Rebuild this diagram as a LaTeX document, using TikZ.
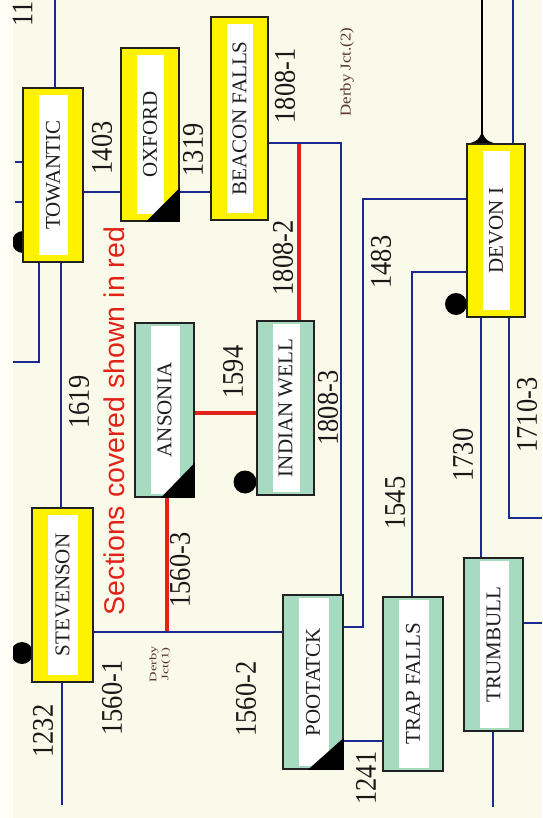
\documentclass[tikz,border=0pt]{standalone}
\usepackage{fontspec}
\setmainfont{Liberation Serif}
\newfontfamily\redsans{Liberation Sans}
\usepackage{graphicx}

\definecolor{bg}{HTML}{FAFAEA}
\definecolor{edgestrip}{HTML}{FFFFF8}
\definecolor{lineblue}{HTML}{1B2A92}
\definecolor{linered}{HTML}{E2231A}
\definecolor{boxyellow}{HTML}{FFF200}
\definecolor{boxgreen}{HTML}{A6DBC2}
\definecolor{boxedge}{HTML}{222222}
\definecolor{jctbrown}{HTML}{5A3328}

\newcommand\stretchx[2]{\scalebox{#1}[1]{#2}}
\newcommand\upright[1]{\rotatebox{90}{#1}}

\begin{document}
\begin{tikzpicture}[x=1pt,y=-1pt,
  ybox/.style={draw=boxedge, line width=1.6pt, fill=boxyellow, inner sep=0pt,
    font=\fontsize{21}{21}\selectfont, text=black!88,
    path picture={\fill[white] ([xshift=16pt,yshift=7pt]path picture bounding box.south west)
      rectangle ([xshift=-15pt,yshift=-7pt]path picture bounding box.north east);}},
  gbox/.style={draw=boxedge, line width=1.6pt, fill=boxgreen, inner sep=0pt,
    font=\fontsize{21}{21}\selectfont, text=black!88,
    path picture={\fill[white] ([xshift=16pt,yshift=3pt]path picture bounding box.south west)
      rectangle ([xshift=-14pt,yshift=-3pt]path picture bounding box.north east);}},
  bline/.style={draw=lineblue, line width=2.8pt},
  rline/.style={draw=linered, line width=3.8pt},
  dot/.style={circle, fill=black, inner sep=0pt, minimum size=22pt},
  num/.style={font=\fontsize{30}{30}\selectfont, inner sep=0pt, text=black!90},
  jct/.style={inner sep=0pt, text=jctbrown, align=center}
]
\useasboundingbox (0,0) rectangle (542,818);
\fill[bg] (0,0) rectangle (542,818);

% helper coordinates
\coordinate (Y143) at (0,143);
\coordinate (Y192) at (0,192);
\coordinate (Y199) at (0,199);
\coordinate (Y272) at (0,272);
\coordinate (Y413) at (0,413);
\coordinate (Y627) at (0,627);
\coordinate (Y632) at (0,632);
\coordinate (Y741) at (0,741);
\coordinate (X39) at (39,0);
\coordinate (X61) at (61,0);
\coordinate (X167) at (167,0);
\coordinate (X299) at (299,0);
\coordinate (X341) at (341,0);
\coordinate (X363) at (363,0);
\coordinate (X412) at (412,0);
\coordinate (X481) at (481,0);
\coordinate (X509) at (509,0);
\coordinate (f1) at (55,0);
\coordinate (f2) at (15,162);
\coordinate (f3) at (15,202);
\coordinate (f4) at (13,362);
\coordinate (f5) at (542,518);
\coordinate (f6) at (513,0);
\coordinate (f7) at (482,0);
\coordinate (f8) at (542,623);
\coordinate (f9) at (493,807);
\coordinate (f10) at (62,805);

% station boxes (placed first as nodes, drawn again on top of lines)
\path
  node[ybox, minimum width=60pt, minimum height=174pt] (tow) at (53,175) {\upright{TOWANTIC}}
  node[ybox, minimum width=58pt, minimum height=173pt] (oxf) at (150,134.5) {\upright{OXFORD}}
  node[ybox, minimum width=57pt, minimum height=203pt] (bea) at (239.5,118.5) {\upright{BEACON FALLS}}
  node[ybox, minimum width=58pt, minimum height=173pt] (dev) at (496,230.5) {\upright{DEVON I}}
  node[gbox, minimum width=59pt, minimum height=174pt] (ans) at (164.5,410) {\upright{ANSONIA}}
  node[gbox, minimum width=57pt, minimum height=174pt] (ind) at (285.5,408) {\upright{INDIAN WELL}}
  node[ybox, minimum width=61pt, minimum height=174pt] (ste) at (62.5,595) {\upright{STEVENSON}}
  node[gbox, minimum width=60pt, minimum height=174pt] (poo) at (313,682) {\upright{POOTATCK}}
  node[gbox, minimum width=60pt, minimum height=174pt] (trp) at (413,684) {\upright{TRAP FALLS}}
  node[gbox, minimum width=59pt, minimum height=173pt] (tru) at (493.5,644.5) {\upright{TRUMBULL}};

% red sections
\draw[rline] (X299 |- Y143) -- (X299 |- ind.north);
\draw[rline] (ans.east |- Y413) -- (ind.west |- Y413);
\draw[rline] (X167 |- ans.south) -- (X167 |- Y632);

% blue lines
\draw[bline] (f1) -- (f1 |- tow.north);
\draw[bline] (f2) -- (f2 -| tow.west);
\draw[bline] (f3) -- (f3 -| tow.west);
\draw[bline] (f4) -| (X39 |- tow.south);
\draw[bline] (X61 |- tow.south) -- (X61 |- ste.north);
\draw[bline] (tow.east |- Y192) -- (oxf.west |- Y192);
\draw[bline] (oxf.east |- Y192) -- (bea.west |- Y192);
\draw[bline] (bea.east |- Y143) -| (X341 |- poo.north);
\draw[bline] (dev.west |- Y199) -| (X363 |- Y627) -- (poo.east |- Y627);
\draw[bline] (dev.west |- Y272) -| (X412 |- trp.north);
\draw[bline] (X481 |- dev.south) -- (X481 |- tru.north);
\draw[bline] (X509 |- dev.south) |- (f5);
\draw[bline] (f6) -- (f6 |- dev.north);
\draw[black, line width=2.2pt] (f7) -- (f7 |- dev.north);
\draw[bline] (tru.east |- f8) -- (f8);
\draw[bline] (f9 |- tru.south) -- (f9);
\draw[bline] (f10 |- ste.south) -- (f10);
\draw[bline] (ste.east |- Y632) -- (poo.west |- Y632);
\draw[bline] (poo.east |- Y741) -- (trp.west |- Y741);

% black dots
\node[dot] (dt) at (23,242) {};
\node[dot] (ds) at (22,653) {};
\node[dot, minimum size=23pt] (di) at (245,482) {};
\node[dot] (dd) at (456,304) {};

% left light strip
\fill[edgestrip] (0,0) rectangle (13,818);

% boxes drawn on top
\path
  node[ybox, minimum width=60pt, minimum height=174pt] at (tow) {\upright{TOWANTIC}}
  node[ybox, minimum width=58pt, minimum height=173pt] at (oxf) {\upright{OXFORD}}
  node[ybox, minimum width=57pt, minimum height=203pt] at (bea) {\upright{BEACON FALLS}}
  node[ybox, minimum width=58pt, minimum height=173pt] at (dev) {\upright{DEVON I}}
  node[gbox, minimum width=59pt, minimum height=174pt] at (ans) {\upright{ANSONIA}}
  node[gbox, minimum width=57pt, minimum height=174pt] at (ind) {\upright{INDIAN WELL}}
  node[ybox, minimum width=61pt, minimum height=174pt] at (ste) {\upright{STEVENSON}}
  node[gbox, minimum width=60pt, minimum height=174pt] at (poo) {\upright{POOTATCK}}
  node[gbox, minimum width=60pt, minimum height=174pt] at (trp) {\upright{TRAP FALLS}}
  node[gbox, minimum width=59pt, minimum height=173pt] at (tru) {\upright{TRUMBULL}};

% black corner triangles
\fill[black] (oxf.south east) -- ([yshift=34pt]oxf.south east) -- ([xshift=-34pt]oxf.south east) -- cycle;
\fill[black] (ans.south east) -- ([yshift=35pt]ans.south east) -- ([xshift=-34pt]ans.south east) -- cycle;
\fill[black] (poo.south east) -- ([yshift=32pt]poo.south east) -- ([xshift=-36pt]poo.south east) -- cycle;
\coordinate (tri) at (f7 |- dev.north);
\fill[black] ([xshift=-12pt]tri) .. controls ([xshift=-4pt,yshift=3pt]tri) .. ([yshift=11pt]tri)
  .. controls ([xshift=4pt,yshift=3pt]tri) .. ([xshift=12pt]tri) -- cycle;

% number labels
\node[num, anchor=south] (l11) at (22.5,27) {\upright{\stretchx{0.88}{11}}};
\node[num] (l1403) at (102,148) {\upright{\stretchx{0.88}{1403}}};
\node[num] (l1319) at (193,150) {\upright{\stretchx{0.88}{1319}}};
\node[num] (l18081) at (285,86) {\upright{\stretchx{0.88}{1808-1}}};
\node[num] (l18082) at (283,258) {\upright{\stretchx{0.88}{1808-2}}};
\node[num] (l18083) at (328,408) {\upright{\stretchx{0.88}{1808-3}}};
\node[num] (l1594) at (233,372) {\upright{\stretchx{0.88}{1594}}};
\node[num] (l1619) at (79,402) {\upright{\stretchx{0.88}{1619}}};
\node[num] (l1483) at (381,262) {\upright{\stretchx{0.88}{1483}}};
\node[num] (l1545) at (395,503) {\upright{\stretchx{0.88}{1545}}};
\node[num] (l1730) at (463,455) {\upright{\stretchx{0.88}{1730}}};
\node[num] (l17103) at (527,415) {\upright{\stretchx{0.88}{1710-3}}};
\node[num] (l15603) at (180,570) {\upright{\stretchx{0.88}{1560-3}}};
\node[num] (l1232) at (43,731) {\upright{\stretchx{0.88}{1232}}};
\node[num] (l15601) at (112,698) {\upright{\stretchx{0.88}{1560-1}}};
\node[num] (l15602) at (246,699) {\upright{\stretchx{0.88}{1560-2}}};
\node[num] (l1241) at (366,778) {\upright{\stretchx{0.88}{1241}}};

% junction labels
\node[jct, font=\fontsize{15}{15}\selectfont] (dj2) at (347,72) {\upright{\stretchx{1.12}{Derby Jct.(2)}}};
\node[jct, font=\fontsize{10}{9}\selectfont] (dj1) at (160,664) {\upright{\stretchx{1.45}{\shortstack{Derby\\Jct(1)}}}};

% legend
\node[inner sep=0pt, text=linered, font=\redsans\fontsize{28.5}{28.5}\selectfont] (legend) at (114,421) {\upright{Sections covered shown in red}};
\end{tikzpicture}
\end{document}
